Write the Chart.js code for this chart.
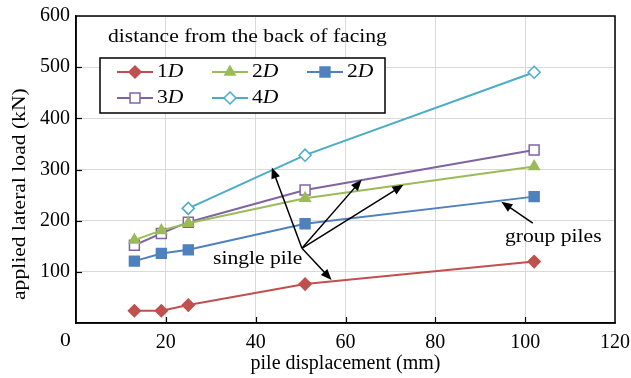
<!doctype html>
<html>
<head>
<meta charset="utf-8">
<title>Applied lateral load vs pile displacement</title>
<script src="https://cdn.jsdelivr.net/npm/chart.js@4.4.0/dist/chart.umd.min.js"></script>
<style>
	body { margin: 0; background: #fff; }
	#wrap { width: 631px; height: 378px; }
</style>
</head>
<body>
<div id="wrap"><canvas id="canvas"></canvas></div>
<script>
// pile displacement (mm) at each load step
var displacement = [13, 19, 25, 51, 102];
// applied lateral load (kN)
var load1D      = [24, 24, 35, 76, 120];
var load2D      = [162, 181, 195, 244, 306];
var load2DGroup = [121, 136, 143, 194, 247];
var load3D      = [152, 175, 197, 260, 338];
var load4D      = [null, null, 224, 328, 490];

var seriesNames  = ['1', '2', '2', '3', '4'];
var seriesColors = ['#C0504D', '#9BBB59', '#4F81BD', '#8064A2', '#4BACC6'];

var xTicks = [0, 20, 40, 60, 80, 100, 120];
var yTicks = [0, 100, 200, 300, 400, 500, 600];

// annotation points, in data units
var singleOrigin  = {x: 50.3, y: 146};
var singleTargets = [{x: 43.6, y: 304}, {x: 63.6, y: 280}, {x: 72.9, y: 270}, {x: 56.9, y: 84}];
var singleLabel   = {x: 30.5, y: 125, text: 'single pile'};
var groupTail     = {x: 101.7, y: 195};
var groupHead     = {x: 94.7, y: 237};
var groupLabel    = {x: 95.5, y: 168, text: 'group piles'};

var FONT = '"Liberation Serif", "Times New Roman", serif';
var STRETCH = 1.2; // the reference type is set a little wide

function toPoints(values) {
	var pts = [];
	for (var i = 0; i < values.length; i++) {
		if (values[i] !== null) pts.push({x: displacement[i], y: values[i]});
	}
	return pts;
}

var styles = [
	{pointStyle: 'rectRot', radius: 6, fill: true},
	{pointStyle: 'triangle', radius: 6, fill: true},
	{pointStyle: 'rect', radius: 7, fill: true},
	{pointStyle: 'rect', radius: 7, fill: false},
	{pointStyle: 'rectRot', radius: 6, fill: false}
];
var allSeries = [load1D, load2D, load2DGroup, load3D, load4D];

var datasets = allSeries.map(function(s, i) {
	return {
		label: seriesNames[i] + 'D',
		data: toPoints(s),
		borderColor: seriesColors[i],
		backgroundColor: styles[i].fill ? seriesColors[i] : '#ffffff',
		borderWidth: 2,
		pointStyle: styles[i].pointStyle,
		pointRadius: styles[i].radius,
		pointBorderWidth: 1.5,
		pointBackgroundColor: styles[i].fill ? seriesColors[i] : '#ffffff',
		pointBorderColor: seriesColors[i],
		fill: false,
		tension: 0
	};
});

// draws text stretched horizontally, returns drawn width
function wideText(ctx, text, x, y, font) {
	ctx.save();
	ctx.font = font;
	ctx.translate(x, y);
	ctx.scale(STRETCH, 1);
	ctx.fillText(text, 0, 0);
	var w = ctx.measureText(text).width * STRETCH;
	ctx.restore();
	return w;
}

function marker(ctx, style, x, y, color, fillIt) {
	var r = style.radius;
	ctx.save();
	ctx.beginPath();
	if (style.pointStyle === 'rectRot') {
		ctx.moveTo(x, y - r); ctx.lineTo(x + r, y); ctx.lineTo(x, y + r); ctx.lineTo(x - r, y);
	} else if (style.pointStyle === 'triangle') {
		var w = r * Math.sqrt(3) / 2;
		ctx.moveTo(x, y - r); ctx.lineTo(x + w, y + r / 2); ctx.lineTo(x - w, y + r / 2);
	} else {
		var s = r * Math.SQRT1_2;
		ctx.rect(x - s, y - s, 2 * s, 2 * s);
	}
	ctx.closePath();
	ctx.fillStyle = fillIt ? color : '#ffffff';
	ctx.fill();
	ctx.lineWidth = 1.5;
	ctx.strokeStyle = color;
	ctx.stroke();
	ctx.restore();
}

function arrow(ctx, x1, y1, x2, y2) {
	var a = Math.atan2(y2 - y1, x2 - x1);
	var len = 11, wid = 4.5;
	ctx.beginPath();
	ctx.moveTo(x1, y1);
	ctx.lineTo(x2 - Math.cos(a) * len * 0.8, y2 - Math.sin(a) * len * 0.8);
	ctx.stroke();
	ctx.beginPath();
	ctx.moveTo(x2, y2);
	ctx.lineTo(x2 - Math.cos(a) * len + Math.sin(a) * wid, y2 - Math.sin(a) * len - Math.cos(a) * wid);
	ctx.lineTo(x2 - Math.cos(a) * len - Math.sin(a) * wid, y2 - Math.sin(a) * len + Math.cos(a) * wid);
	ctx.closePath();
	ctx.fill();
}

var extras = {
	id: 'extras',
	afterDraw: function(chart) {
		var ctx = chart.ctx, ca = chart.chartArea;
		var xs = chart.scales.x, ys = chart.scales.y;
		var f18 = '18px ' + FONT;
		ctx.save();

		// inward tick marks
		ctx.strokeStyle = '#000';
		ctx.lineWidth = 1.2;
		yTicks.slice(1, -1).forEach(function(v) {
			var py = Math.round(ys.getPixelForValue(v)) + 0.5;
			ctx.beginPath(); ctx.moveTo(ca.left, py); ctx.lineTo(ca.left + 6, py); ctx.stroke();
		});
		xTicks.slice(1, -1).forEach(function(v) {
			var px = Math.round(xs.getPixelForValue(v)) + 0.5;
			ctx.beginPath(); ctx.moveTo(px, ca.bottom); ctx.lineTo(px, ca.bottom - 6); ctx.stroke();
		});

		// plot frame
		ctx.lineWidth = 1.5;
		ctx.strokeRect(ca.left, ca.top, ca.right - ca.left, ca.bottom - ca.top);

		// corner 0 label
		ctx.fillStyle = '#000';
		ctx.textAlign = 'left';
		ctx.textBaseline = 'middle';
		wideText(ctx, '0', ca.left - 16, ca.bottom + 18, f18);

		// y axis title
		ctx.save();
		ctx.translate(20, 300);
		ctx.rotate(-Math.PI / 2);
		wideText(ctx, 'applied lateral load (kN)', 0, 0, f18);
		ctx.restore();

		// legend
		wideText(ctx, 'distance from the back of facing', 108, 37, f18);
		ctx.fillStyle = '#fff';
		ctx.fillRect(100, 58, 285, 55);
		ctx.strokeStyle = '#000';
		ctx.lineWidth = 1.5;
		ctx.strokeRect(100, 58, 285, 55);
		var cols = [117, 212, 307], rows = [72, 98];
		for (var i = 0; i < seriesNames.length; i++) {
			var lx = cols[i % 3], ly = rows[Math.floor(i / 3)];
			ctx.strokeStyle = seriesColors[i];
			ctx.lineWidth = 2;
			ctx.beginPath(); ctx.moveTo(lx, ly); ctx.lineTo(lx + 36, ly); ctx.stroke();
			marker(ctx, styles[i], lx + 18, ly, seriesColors[i], styles[i].fill);
			ctx.fillStyle = '#000';
			var w = wideText(ctx, seriesNames[i], lx + 40, ly, f18);
			wideText(ctx, 'D', lx + 40 + w, ly, 'italic ' + f18);
		}

		// annotations
		ctx.strokeStyle = '#000';
		ctx.fillStyle = '#000';
		ctx.lineWidth = 1.5;
		var ox = xs.getPixelForValue(singleOrigin.x), oy = ys.getPixelForValue(singleOrigin.y);
		singleTargets.forEach(function(t) {
			arrow(ctx, ox, oy, xs.getPixelForValue(t.x), ys.getPixelForValue(t.y));
		});
		arrow(ctx, xs.getPixelForValue(groupTail.x), ys.getPixelForValue(groupTail.y),
			xs.getPixelForValue(groupHead.x), ys.getPixelForValue(groupHead.y));
		wideText(ctx, singleLabel.text, xs.getPixelForValue(singleLabel.x), ys.getPixelForValue(singleLabel.y), f18);
		wideText(ctx, groupLabel.text, xs.getPixelForValue(groupLabel.x), ys.getPixelForValue(groupLabel.y), f18);

		ctx.restore();
	}
};

new Chart(document.getElementById('canvas'), {
	type: 'line',
	data: { datasets: datasets },
	options: {
		responsive: true,
		maintainAspectRatio: false,
		animation: false,
		layout: { padding: { top: 16, right: 16, left: 0, bottom: 0 } },
		plugins: { legend: { display: false }, tooltip: { enabled: false } },
		scales: {
			x: {
				type: 'linear',
				min: 0, max: 120,
				afterFit: function(s) { s.height = 55; s.paddingLeft = 0; s.paddingRight = 0; },
				afterBuildTicks: function(s) { s.ticks = xTicks.map(function(v) { return {value: v}; }); },
				grid: { color: '#d9d9d9', lineWidth: 1, drawTicks: false },
				border: { color: '#000', width: 1.5 },
				ticks: {
					color: '#000', padding: 8,
					font: { family: FONT, size: 20 },
					callback: function(v) { return v === 0 ? '' : v; }
				},
				title: {
					display: true, text: 'pile displacement (mm)', color: '#000',
					font: { family: FONT, size: 20 }, padding: { top: 0, bottom: 2 }
				}
			},
			y: {
				min: 0, max: 600,
				afterFit: function(s) { s.width = 76; s.paddingTop = 0; s.paddingBottom = 0; },
				afterBuildTicks: function(s) { s.ticks = yTicks.map(function(v) { return {value: v}; }); },
				grid: { color: '#d9d9d9', lineWidth: 1, drawTicks: false },
				border: { color: '#000', width: 1.5 },
				ticks: {
					color: '#000', padding: 6,
					font: { family: FONT, size: 20 },
					callback: function(v) { return v === 0 ? '' : v; }
				}
			}
		}
	},
	plugins: [extras]
});
</script>
</body>
</html>
